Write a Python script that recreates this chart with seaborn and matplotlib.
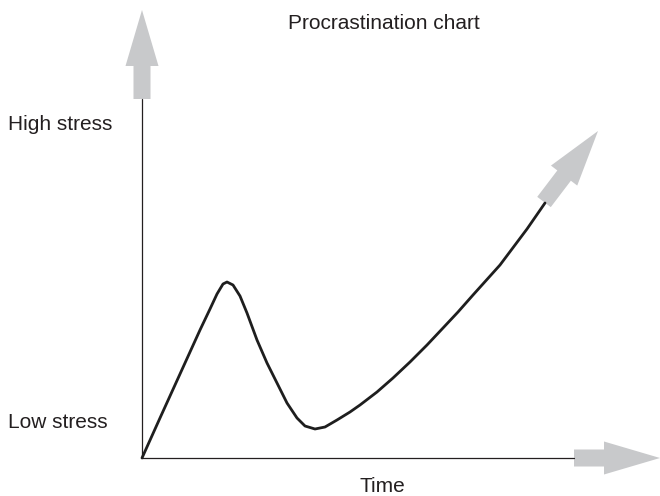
import numpy as np
import pandas as pd
import matplotlib
matplotlib.use('Agg')
import matplotlib.pyplot as plt
from matplotlib.patches import FancyArrow
import seaborn as sns

# stress over time (arbitrary units)
time = [0.0, 1.8, 3.8, 5.8, 6.8, 7.5, 8.1, 8.5, 9.1, 9.8, 10.5, 11.5,
        12.5, 13.5, 14.5, 15.5, 16.3, 17.3, 18.3, 19.5, 20.8, 21.8, 23.5,
        25.1, 26.8, 28.5, 30.1, 31.6, 33.1, 35.8, 38.5, 40.3]
stress = [0.0, 4.0, 8.4, 12.8, 14.9, 16.4, 17.4, 17.6, 17.3, 16.2, 14.5,
          11.8, 9.5, 7.5, 5.5, 4.0, 3.2, 2.9, 3.1, 3.8, 4.6, 5.3, 6.6, 8.0,
          9.6, 11.3, 13.0, 14.6, 16.3, 19.3, 22.9, 25.5]

axis_time_end = 43.2
axis_stress_end = 35.9
arrow_gray = '#c8c9cb'
text_color = '#231f20'

sns.set_style('white')
plt.rcParams['font.family'] = ['Liberation Sans', 'DejaVu Sans']

df = pd.DataFrame({'Time': time, 'Stress': stress})

fig = plt.figure(figsize=(6.6, 4.96), dpi=100)
ax = fig.add_axes([0, 0, 1, 1])
ax.set_xlim(-14.2, 51.8)
ax.set_ylim(-3.8, 45.8)
ax.axis('off')

# axes lines
ax.plot([0, 0], [0, axis_stress_end], color=text_color, lw=0.9)
ax.plot([0, axis_time_end], [0, 0], color=text_color, lw=0.9)

# curve
sns.lineplot(data=df, x='Time', y='Stress', ax=ax, color='#1e1e1e', lw=2.0,
             sort=False, solid_capstyle='round', solid_joinstyle='round')

# big grey arrows
arrow_kw = dict(width=1.7, head_width=3.3, head_length=5.6,
                length_includes_head=True, color=arrow_gray, lw=0)
ax.add_patch(FancyArrow(0, axis_stress_end, 0, 8.9, **arrow_kw))
ax.add_patch(FancyArrow(axis_time_end, 0, 8.6, 0, **arrow_kw))
ax.add_patch(FancyArrow(time[-1] - 0.1, stress[-1] + 0.1, 5.4, 7.1, **arrow_kw))

# labels
ax.text(24.2, 43.4, 'Procrastination chart', ha='center', va='center',
        fontsize=15, color=text_color)
ax.text(-13.4, 33.3, 'High stress', ha='left', va='center',
        fontsize=15, color=text_color)
ax.text(-13.4, 3.6, 'Low stress', ha='left', va='center',
        fontsize=15, color=text_color)
ax.text(24.0, -2.9, 'Time', ha='center', va='center',
        fontsize=15, color=text_color)

plt.savefig('out.png', dpi=100)
plt.close()
